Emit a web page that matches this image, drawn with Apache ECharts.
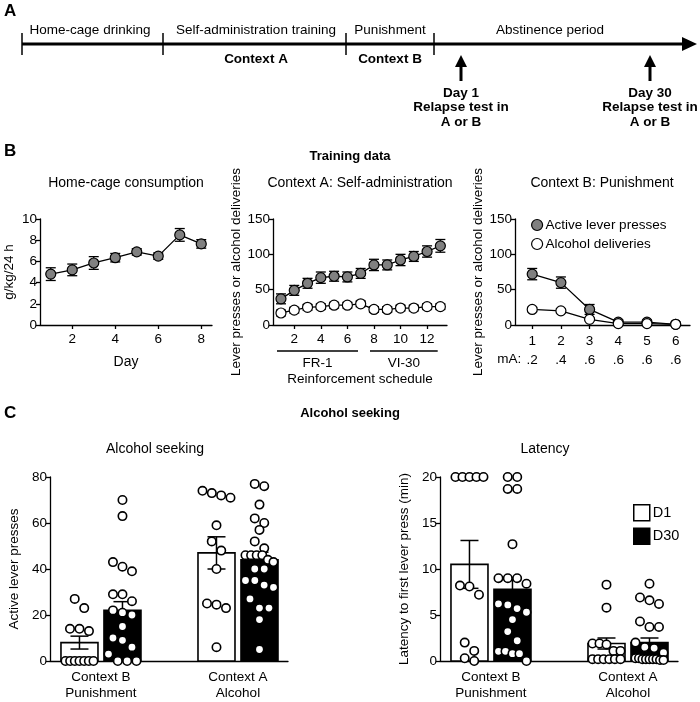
<!DOCTYPE html>
<html><head><meta charset="utf-8">
<script src="https://cdn.jsdelivr.net/npm/echarts@6/dist/echarts.min.js"></script>
<style>html,body{margin:0;padding:0;background:#fff}#c{width:700px;height:702px}</style>
</head><body><div id="c"></div>
<script>
// ---------- Panel B data ----------
const homeDays = [1,2,3,4,5,6,7,8];
const homeMean = [4.8,5.2,5.85,6.35,6.9,6.5,8.5,7.65];
const homeSem  = [0.6,0.55,0.6,0.4,0.3,0.3,0.6,0.4];
const homeTicks = [2,4,6,8];

const saSessions = [1,2,3,4,5,6,7,8,9,10,11,12,13];
const saActive    = [37,49,59,67,69,68,73,85,85,92,97,104,112];
const saActiveSem = [7,7,7,8,7,7,7,8,7,8,7,8,9];
const saDeliv     = [17,21,25,26,28,28,30,22,22,24,24,26,26];
const saDelivSem  = [4,4,4,4,4,4,4,4,4,4,4,4,4];
const saTicks = [2,4,6,8,10,12];
const schedules = ['FR-1','VI-30'];
const scheduleFrom = [1,8];
const scheduleTo = [7,13];

const punSessions = [1,2,3,4,5,6];
const punMA = ['.2','.4','.6','.6','.6','.6'];
const punActive    = [72,60,22,4,4,1];
const punActiveSem = [8,8,7,3,3,1];
const punDeliv     = [22,20,8,2,2,1];
const punDelivSem  = [3,3,2,1,1,0.5];

// ---------- Panel C data ----------
const contexts = ['Context B\nPunishment','Context A\nAlcohol'];
const days = ['D1','D30'];
const seekMeanD1 = [8,47],  seekSemD1 = [2.8,7];
const seekMeanD30 = [22,44], seekSemD30 = [3.8,3.3];
const seekB_D1  = [27,23,14,13,14,0,0,0,0,0,0,0];
const seekB_D30 = [70,63,43,39,41,29,26,29,21,20,22,15,10,9,6,3,0,0,0];
const seekA_D1  = [74,72,71,73,59,52,48,40,24.5,23,25,6];
const seekA_D30 = [77,76,68,62,60,57,52,49,46,46,46,46,44,43,40,40,35,33,35,32,27,23,23,18,5];

const latMeanD1 = [10.5,1.9],  latSemD1 = [2.6,0.6];
const latMeanD30 = [7.8,2.0],  latSemD30 = [1.25,0.5];
const latB_D1  = [20,20,20,20,20,8.2,7.2,8.1,1.1,2.0,0,0.3];
const latB_D30 = [20,20,18.7,18.7,12.7,9,9,9,8.4,6.1,5.7,6.2,4.5,3.2,5.3,2.2,1.05,0.8,0.8,1.05,0];
const latA_D1  = [8.3,5.8,1.9,1.8,1.9,1.1,1.1,0.2,0.2,0.2,0.2,0.2,0.2];
const latA_D30 = [8.4,6.9,6.6,6.2,4.3,3.7,3.7,2.0,1.5,1.4,0.9,0.3,0.2,0.2,0.2,0.2,0.2,0.3,0.1,0.1];

// ---------- helpers ----------
const FONT = '"Liberation Sans", Arial, Helvetica, sans-serif';
const BLACK = '#000';
function T(x, y, text, o) {
  o = o || {};
  return {type:'text', x:x, y:y, rotation:o.rot||0, silent:true, z:10,
    style:{text:text, fill:BLACK, font:(o.bold?'bold ':'')+(o.size||13.5)+'px '+FONT,
      align:o.align||'center', verticalAlign:'middle', textAlign:o.align||'center', textVerticalAlign:'middle'}};
}
function L(x1,y1,x2,y2,w){ return {type:'line', silent:true, z:10, shape:{x1,y1,x2,y2}, style:{stroke:BLACK, lineWidth:w||1.5}}; }
function P(pts){ return {type:'polygon', silent:true, z:10, shape:{points:pts}, style:{fill:BLACK}}; }

const G = [
  {left:40,  top:219, width:172, height:106},
  {left:273, top:219, width:174, height:106},
  {left:515, top:219, width:175, height:106},
  {left:50,  top:477, width:238, height:184},
  {left:440, top:477, width:238, height:184}
];
const XR = [[0.5,8.5],[0.4,13.5],[0.4,6.5],[-0.372,1.365],[-0.372,1.365]];
function px(gi, v){ return G[gi].left + (v-XR[gi][0])/(XR[gi][1]-XR[gi][0])*G[gi].width; }

const axisLineS = {show:true, onZero:false, lineStyle:{color:BLACK, width:1.3}};
const tickS = {show:true, length:4, lineStyle:{color:BLACK, width:1.3}};
const lblS = {color:BLACK, fontSize:13.5, fontFamily:FONT};

function yAx(gi, max, interval, name, gap){
  return {type:'value', gridIndex:gi, min:0, max:max, interval:interval,
    axisLine:axisLineS, axisTick:tickS, splitLine:{show:false},
    axisLabel:Object.assign({margin:3}, lblS),
    name:name, nameLocation:'middle', nameGap:gap,
    nameTextStyle:{color:BLACK, fontSize:13.5, fontFamily:FONT}};
}
function xAx(gi, ticks, fmt, extra){
  return Object.assign({type:'value', gridIndex:gi, min:XR[gi][0], max:XR[gi][1],
    axisLine:axisLineS, axisTick:Object.assign({customValues:ticks}, tickS), splitLine:{show:false},
    axisLabel:Object.assign({customValues:ticks, margin:7, formatter:fmt}, lblS)}, extra||{});
}

// error bar custom series (panel B)
function errSeries(gi, xs, m, s){
  return {type:'custom', xAxisIndex:gi, yAxisIndex:gi, z:1, silent:true,
    data: xs.map((x,i)=>[x, m[i], s[i]]),
    renderItem:function(p, api){
      const x=api.value(0), v=api.value(1), e=api.value(2);
      const hi=api.coord([x,v+e]), lo=api.coord([x,v-e]);
      return {type:'group', children:[
        {type:'line', shape:{x1:hi[0],y1:hi[1],x2:lo[0],y2:lo[1]}, style:{stroke:BLACK,lineWidth:1.3}},
        {type:'line', shape:{x1:hi[0]-5,y1:hi[1],x2:hi[0]+5,y2:hi[1]}, style:{stroke:BLACK,lineWidth:1.3}},
        {type:'line', shape:{x1:lo[0]-5,y1:lo[1],x2:lo[0]+5,y2:lo[1]}, style:{stroke:BLACK,lineWidth:1.3}}
      ]};
    }};
}
function lineSeries(gi, name, xs, ys, fill){
  return {type:'line', name:name, xAxisIndex:gi, yAxisIndex:gi, z:3,
    data: xs.map((x,i)=>[x, ys[i]]), symbol:'circle', symbolSize:10,
    itemStyle:{color:fill, borderColor:BLACK, borderWidth:1.2},
    lineStyle:{color:BLACK, width:1.3}, emphasis:{disabled:true}, animation:false};
}

// bars (panel C)
const BAR_OFF = 21.5, BAR_W = 37;
function barSeries(gi, dayIdx, means, sems){
  return {type:'custom', name:days[dayIdx], xAxisIndex:gi, yAxisIndex:gi, z:2, silent:true,
    itemStyle:{color: dayIdx ? BLACK : '#fff', borderColor:BLACK, borderWidth:1.5},
    data: means.map((m,i)=>[i, m, sems[i]]),
    renderItem:function(p, api){
      const g=api.value(0), m=api.value(1), s=api.value(2);
      const top=api.coord([g,m]), base=api.coord([g,0]);
      const cx = top[0] + (dayIdx ? BAR_OFF : -BAR_OFF);
      const hi=api.coord([g,m+s])[1], lo=api.coord([g,m-s])[1];
      return {type:'group', children:[
        {type:'rect', shape:{x:cx-BAR_W/2, y:top[1], width:BAR_W, height:base[1]-top[1]},
          style:{fill: dayIdx ? BLACK : '#fff', stroke:BLACK, lineWidth:1.6}},
        {type:'line', shape:{x1:cx,y1:hi,x2:cx,y2:lo}, style:{stroke:BLACK,lineWidth:1.5}},
        {type:'line', shape:{x1:cx-9,y1:hi,x2:cx+9,y2:hi}, style:{stroke:BLACK,lineWidth:1.5}},
        {type:'line', shape:{x1:cx-9,y1:lo,x2:cx+9,y2:lo}, style:{stroke:BLACK,lineWidth:1.5}}
      ]};
    }};
}
// Prism-like spreading of points with close values
function swarm(vals, thr){
  const sorted = vals.slice().sort((a,b)=>b-a);
  const out=[]; let i=0;
  while(i<sorted.length){
    let j=i; while(j<sorted.length && sorted[i]-sorted[j] < thr) j++;
    const n=j-i; const s = n>1 ? Math.min(9.5, 28/(n-1)) : 0;
    for(let k=0;k<n;k++) out.push([sorted[i+k], (k-(n-1)/2)*s]);
    i=j;
  }
  return out;
}
function dotSeries(gi, groups, thr){
  const data=[];
  groups.forEach((gd, g)=>gd.forEach((vals, d)=>{
    swarm(vals, thr).forEach(([v,off])=>data.push([g, v, off, d]));
  }));
  return {type:'custom', xAxisIndex:gi, yAxisIndex:gi, z:4, silent:true, data:data,
    renderItem:function(p, api){
      const c=api.coord([api.value(0), api.value(1)]);
      const x=c[0] + (api.value(3) ? BAR_OFF : -BAR_OFF) + api.value(2);
      return {type:'circle', shape:{cx:x, cy:c[1], r:4.2}, style:{fill:'#fff', stroke:BLACK, lineWidth:1.6}};
    }};
}

// ---------- graphics (panel labels, timeline, annotations) ----------
const gr = [];
gr.push(T(4,11,'A',{bold:true,size:17,align:'left'}));
gr.push(L(22,44,684,44,3));
gr.push(P([[682,37],[697,44],[682,51]]));
[22,163,346,434].forEach(x=>gr.push(L(x,33,x,55,1.5)));
gr.push(T(90,30,'Home-cage drinking'));
gr.push(T(256,30,'Self-administration training'));
gr.push(T(390,30,'Punishment'));
gr.push(T(550,30,'Abstinence period'));
gr.push(T(256,59,'Context A',{bold:true}));
gr.push(T(390,59,'Context B',{bold:true}));
[[461,'Day 1'],[650,'Day 30']].forEach(([x,d])=>{
  gr.push(L(x,66,x,81,3));
  gr.push(P([[x-6,67],[x,55],[x+6,67]]));
  gr.push(T(x,93,d,{bold:true}));
  gr.push(T(x,107,'Relapse test in',{bold:true}));
  gr.push(T(x,122,'A or B',{bold:true}));
});
gr.push(T(4,151,'B',{bold:true,size:17,align:'left'}));
gr.push(T(350,156,'Training data',{bold:true,size:13}));
gr.push(T(126,183,'Home-cage consumption',{size:14}));
gr.push(T(360,183,'Context A: Self-administration',{size:14}));
gr.push(T(602,183,'Context B: Punishment',{size:14}));
// schedule brackets
schedules.forEach((s,i)=>{
  const a=px(1, scheduleFrom[i]-0.3), b=px(1, scheduleTo[i]-0.2);
  gr.push(L(a,351,b,351,1.5));
  gr.push(T((a+b)/2,363,s));
});
gr.push(T(360,379,'Reinforcement schedule'));
gr.push(T(px(2,1)-11,359,'mA:',{align:'right'}));
gr.push(T(4,413,'C',{bold:true,size:17,align:'left'}));
gr.push(T(350,413,'Alcohol seeking',{bold:true,size:13}));
gr.push(T(155,449,'Alcohol seeking',{size:14}));
gr.push(T(545,449,'Latency',{size:14}));

const option = {
  animation:false,
  backgroundColor:'#fff',
  textStyle:{fontFamily:FONT},
  grid: G.map(g=>Object.assign({containLabel:false}, g)),
  legend:[
    {left:526, top:213, orient:'vertical', itemGap:5, itemWidth:11, itemHeight:11, selectedMode:false,
      textStyle:{color:BLACK, fontSize:13.5, fontFamily:FONT, padding:[0,0,0,-2]},
      data:[{name:'Active lever presses', icon:'circle', itemStyle:{color:'#808080', borderColor:BLACK, borderWidth:1.2}},
            {name:'Alcohol deliveries', icon:'circle', itemStyle:{color:'#fff', borderColor:BLACK, borderWidth:1.2}}]},
    {left:628, top:499, orient:'vertical', itemGap:6, itemWidth:16, itemHeight:16, selectedMode:false,
      textStyle:{color:BLACK, fontSize:14.5, fontFamily:FONT, padding:[0,0,0,-2]},
      data:[{name:'D1', icon:'rect', itemStyle:{color:'#fff', borderColor:BLACK, borderWidth:1.5}},
            {name:'D30', icon:'rect', itemStyle:{color:BLACK, borderColor:BLACK, borderWidth:1.5}}]}
  ],
  xAxis:[
    xAx(0, homeTicks, v=>String(v), {name:'Day', nameLocation:'middle', nameGap:30, nameTextStyle:{color:BLACK,fontSize:14,fontFamily:FONT}}),
    xAx(1, saTicks, v=>String(v)),
    xAx(2, punSessions, v=>String(v)+'\n'+punMA[punSessions.indexOf(v)], {axisLabel:Object.assign({customValues:punSessions, margin:7, lineHeight:19, verticalAlign:'top',
        formatter:v=>String(v)+'\n'+punMA[punSessions.indexOf(v)]}, lblS)}),
    xAx(3, [0,1], v=>contexts[Math.round(v)], {axisTick:{show:false}, axisLabel:Object.assign({customValues:[0,1], margin:8, lineHeight:16, formatter:v=>contexts[Math.round(v)]}, lblS)}),
    xAx(4, [0,1], v=>contexts[Math.round(v)], {axisTick:{show:false}, axisLabel:Object.assign({customValues:[0,1], margin:8, lineHeight:16, formatter:v=>contexts[Math.round(v)]}, lblS)})
  ],
  yAxis:[
    yAx(0, 10, 2, 'g/kg/24 h', 24),
    yAx(1, 150, 50, 'Lever presses or alcohol deliveries', 30),
    yAx(2, 150, 50, 'Lever presses or alcohol deliveries', 30),
    yAx(3, 80, 20, 'Active lever presses', 29),
    yAx(4, 20, 5, 'Latency to first lever press (min)', 29)
  ],
  series:[
    errSeries(0, homeDays, homeMean, homeSem),
    lineSeries(0, 'Home', homeDays, homeMean, '#808080'),
    errSeries(1, saSessions, saActive, saActiveSem),
    errSeries(1, saSessions, saDeliv, saDelivSem),
    lineSeries(1, 'Active lever presses', saSessions, saActive, '#808080'),
    lineSeries(1, 'Alcohol deliveries', saSessions, saDeliv, '#fff'),
    errSeries(2, punSessions, punActive, punActiveSem),
    errSeries(2, punSessions, punDeliv, punDelivSem),
    lineSeries(2, 'Active lever presses', punSessions, punActive, '#808080'),
    lineSeries(2, 'Alcohol deliveries', punSessions, punDeliv, '#fff'),
    barSeries(3, 0, seekMeanD1, seekSemD1),
    barSeries(3, 1, seekMeanD30, seekSemD30),
    dotSeries(3, [[seekB_D1, seekB_D30],[seekA_D1, seekA_D30]], 5),
    barSeries(4, 0, latMeanD1, latSemD1),
    barSeries(4, 1, latMeanD30, latSemD30),
    dotSeries(4, [[latB_D1, latB_D30],[latA_D1, latA_D30]], 1.2)
  ],
  graphic: gr
};
const chart = echarts.init(document.getElementById('c'));
chart.setOption(option);
</script>
</body></html>
